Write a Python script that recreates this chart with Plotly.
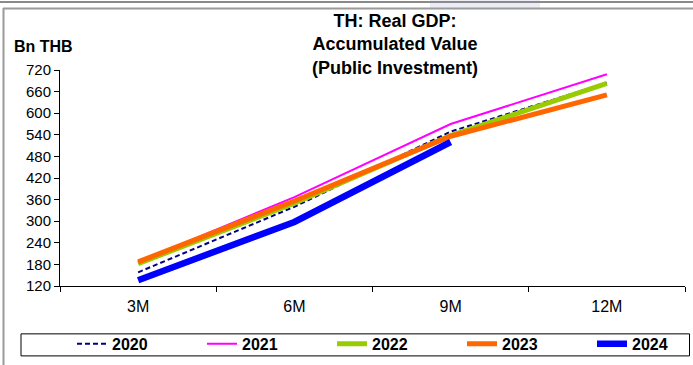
import plotly.graph_objects as go

categories = ["3M", "6M", "9M", "12M"]
y2020 = [158, 340, 549, 684]
y2021 = [186, 367, 570, 708]
y2022 = [182, 350, 538, 683]
y2023 = [187, 356, 536, 651]
y2024 = [136, 298, 520]
y_ticks = list(range(120, 721, 60))

FONT = "Liberation Sans, Arial, sans-serif"

series = [
    ("2020", y2020, dict(color="#000080", width=2, dash="5px,3px")),
    ("2021", y2021, dict(color="#FF00FF", width=2)),
    ("2022", y2022, dict(color="#99CC00", width=5)),
    ("2023", y2023, dict(color="#FF6600", width=5)),
    ("2024", y2024, dict(color="#0000FF", width=6.5)),
]

fig = go.Figure()
for i, (name, vals, line) in enumerate(series):
    fig.add_trace(go.Scatter(x=categories[:len(vals)], y=vals, mode="lines",
                             name=name, line=line,
                             legendwidth=(45 if i == len(series) - 1 else 85)))

# pixel helpers for non-data decorations (plot area 60..685 x 70..285.7)
def px(x):
    return (x - 60) / 625.0

def py(y):
    return (285.7 - y) / 215.7

fig.update_layout(
    width=693, height=365,
    margin=dict(l=60, r=8, t=70, b=79.3, autoexpand=False),
    paper_bgcolor="white", plot_bgcolor="white",
    font=dict(family=FONT, size=15, color="black"),
    showlegend=True,
    legend=dict(
        orientation="h", x=px(72), xanchor="left", y=py(326.5), yanchor="top",
        borderwidth=0, bgcolor="rgba(0,0,0,0)",
        font=dict(family=FONT, size=16, color="black", weight="bold"),
        entrywidthmode="pixels", traceorder="normal",
        itemclick=False,
    ),
    xaxis=dict(
        type="category", range=[-0.5, 3.5], showgrid=False,
        showline=True, linecolor="black", linewidth=1,
        ticks="outside", tickson="boundaries", ticklen=5, tickcolor="black",
        tickfont=dict(family=FONT, size=16), zeroline=False,
        ticklabelstandoff=6,
    ),
    yaxis=dict(
        range=[120, 720], tickvals=y_ticks, showgrid=False,
        showline=True, linecolor="black", linewidth=1,
        ticks="outside", ticklen=5, tickcolor="black",
        tickfont=dict(family=FONT, size=15), zeroline=False,
        ticksuffix="\u00a0\u2009",
    ),
    annotations=[
        dict(text="<b>TH: Real GDP:<br>Accumulated Value<br>(Public Investment)</b>",
             x=px(395), y=py(45), xref="paper", yref="paper",
             xanchor="center", yanchor="middle", showarrow=False,
             font=dict(family=FONT, size=18, color="black")),
        dict(text="<b>Bn THB</b>", x=px(12), y=py(47), xref="paper", yref="paper",
             xanchor="left", yanchor="middle", showarrow=False,
             font=dict(family=FONT, size=16, color="black")),
    ],
    shapes=[
        dict(type="rect", xref="paper", yref="paper", x0=px(430), x1=px(540),
             y0=py(8), y1=py(0), fillcolor="#ececf6", line=dict(width=0), layer="below"),
        dict(type="line", xref="paper", yref="paper", x0=px(0), x1=px(693),
             y0=py(2), y1=py(2), line=dict(color="#8a8a8a", width=2)),
        dict(type="line", xref="paper", yref="paper", x0=px(3), x1=px(693),
             y0=py(8.5), y1=py(8.5), line=dict(color="#9a9a9a", width=2)),
        dict(type="line", xref="paper", yref="paper", x0=px(3.5), x1=px(3.5),
             y0=py(8), y1=py(366), line=dict(color="#9a9a9a", width=2)),
        # legend frame
        dict(type="rect", xref="paper", yref="paper", x0=px(21), x1=px(689.5),
             y0=py(355.5), y1=py(333.5), line=dict(color="black", width=1),
             fillcolor="rgba(0,0,0,0)"),
    ],
)

fig.write_html("out.html", config={"displayModeBar": False},
               post_script="document.body.style.margin='0px';")
